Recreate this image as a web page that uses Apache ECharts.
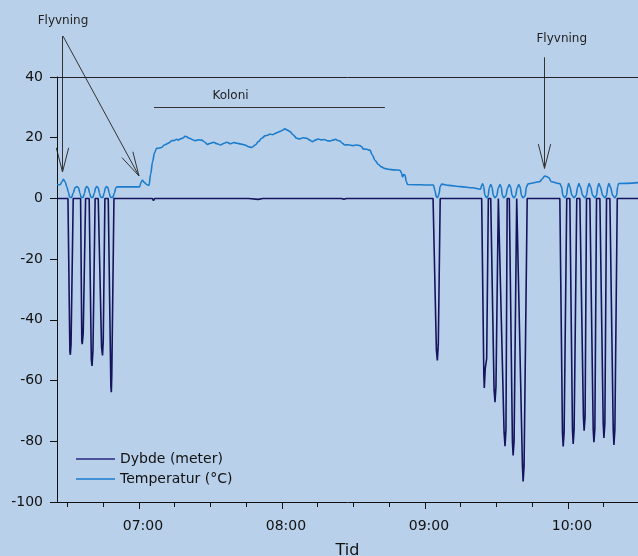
<!DOCTYPE html>
<html>
<head>
<meta charset="utf-8">
<script src="https://cdn.jsdelivr.net/npm/echarts@6/dist/echarts.min.js"></script>
<style>
html,body{margin:0;padding:0;background:#b9d0ea;}
#c{width:638px;height:556px;}
</style>
</head>
<body>
<div id="c"></div>
<script>
// time in minutes since midnight
var xMin = 385.6, xMax = 629.4;
var hourTicks = [420, 480, 540, 600];
var quarterTicks = [390, 405, 420, 435, 450, 465, 480, 495, 510, 525, 540, 555, 570, 585, 600, 615];
var yTicks = { min: -100, max: 40, interval: 20 };

var seriesNames = ['Dybde (meter)', 'Temperatur (°C)'];

// Depth (meter) : [minute, value]
var depthData = [
  [385.6,0],[390.2,0],[391.0,-50.5],[391.2,-51.5],[391.5,-48],[392.4,0],
  [395.5,0],[396.0,-47],[396.2,-48],[396.6,-44.5],[397.0,-44.5],[397.6,0],
  [399.1,0],[400.0,-53],[400.3,-55.2],[400.7,-50],[401.6,0],
  [402.9,0],[404.3,-49],[404.7,-51.7],[405.0,-47],[405.7,0],
  [407.1,0],[408.2,-62],[408.4,-63.8],[408.6,-58],[409.5,0],
  [425.6,0],[426.1,-0.7],[426.6,0],[427.2,-0.4],[427.8,0],[466,0],[470,-0.3],[472,0],
  [505,0],[506,-0.3],[507,0],
  [543.4,0],[544.8,-50],[545.2,-53.4],[545.6,-48],[546.4,0],
  [563.8,0],[564.7,-58],[564.9,-62.4],[565.3,-56],[565.9,-52.8],[566.6,0],
  [567.6,0],[569.0,-63],[569.4,-67.1],[569.8,-62],[570.8,0],
  [571.5,0],[573.2,-77],[573.6,-81.6],[574.0,-76],[574.5,0],
  [575.4,0],[576.7,-80],[577.0,-84.7],[577.4,-80],[578.5,0],
  [579.3,0],[580.9,-88],[581.2,-93.2],[581.6,-88],[582.9,0],
  [589.5,0],[590,-0.5],[590.6,0],
  [596.6,0],[597.7,-77],[598.0,-81.7],[598.4,-77],[599.5,0],
  [600.8,0],[601.9,-76],[602.2,-80.9],[602.6,-76],[603.7,0],
  [605.0,0],[606.5,-72],[606.8,-76.5],[607.2,-72],[607.8,0],
  [609.2,0],[610.6,-76],[610.9,-80.3],[611.3,-76],[612.0,0],
  [613.4,0],[614.8,-74],[615.1,-78.9],[615.5,-74],[616.2,0],
  [617.6,0],[619.0,-76],[619.3,-81.2],[619.7,-76],[620.7,0],
  [629.4,0]
];

// Temperature (°C) : [minute, value]
var tempData = [
  [385.6,4.6],[386.9,4.5],[387.7,5.5],[388.3,6.3],[389.0,5.5],[389.7,3.9],
  [390.4,2.0],[390.9,0.4],[391.7,0.3],[392.4,1.8],[393.2,3.6],[393.9,3.9],
  [394.6,3.6],[395.2,1.8],[395.7,0.4],[396.5,0.3],[397.2,1.8],[397.6,3.5],[398.1,3.9],
  [398.7,3.5],[399.3,1.8],[399.8,0.4],[400.6,0.3],[401.3,1.8],[401.8,3.5],[402.3,3.9],
  [402.9,3.5],[403.4,1.8],[403.9,0.4],[404.8,0.3],[405.4,1.8],[405.9,3.5],[406.4,3.9],
  [407.0,3.5],[407.5,1.8],[408.0,0.4],[409.0,0.3],[409.7,1.8],[410.3,3.5],[410.8,3.8],
  [420.2,3.8],[421.0,5.5],[421.4,6.0],[422.2,5.3],[423.2,4.6],[424.2,4.3],
  [424.9,8],[425.7,12.1],[426.5,15],[427.4,16.5],[428.4,16.6],[429.5,16.8],[430.5,17.5],
  [431.6,17.9],[432.6,18.3],[433.7,19.0],[434.8,19.1],[435.8,19.5],[436.5,19.2],[437.2,19.6],
  [438.5,19.9],[439.3,20.5],[440.0,20.3],[441.2,19.8],[442.3,19.4],[443.5,19.0],[444.8,19.3],
  [446.3,19.2],[447.5,18.6],[448.8,17.8],[450.0,18.2],[451.2,18.5],[452.8,18.0],[454.3,17.6],
  [455.5,18.1],[456.8,18.5],[458.5,18.0],[459.8,18.4],[461.0,18.2],[462.8,17.9],[464.5,17.6],
  [466.0,17.0],[467.3,16.8],[468.8,17.6],[470.1,18.7],[471.5,19.8],[472.9,20.6],[474.0,20.8],
  [475.0,21.2],[476.0,21.0],[477.1,21.4],[478.0,21.7],[478.9,22.0],[480.0,22.4],[481.3,22.9],
  [482.3,22.5],[483.4,22.0],[484.6,21.0],[486.2,19.8],[487.5,19.6],[488.8,20.0],[490.4,19.8],
  [491.5,19.3],[492.7,18.7],[494.0,19.2],[495.2,19.6],[496.5,19.3],[497.8,19.4],[499.0,19.0],
  [500.1,18.9],[501.3,19.2],[502.5,19.5],[503.4,19.1],[504.3,18.9],[505.3,18.2],[506.4,17.6],
  [507.8,17.7],[509.9,17.4],[511.2,17.6],[512.7,17.4],[513.5,17.0],[514.1,16.3],[515.5,16.2],
  [516.9,15.9],[518.0,14.2],[519.0,12.6],[520.5,11.2],[521.8,10.4],[523.0,9.9],[524.6,9.6],
  [527.0,9.4],[529.5,9.3],[530.1,8.5],[530.6,7.1],[531.1,7.9],[531.6,7.7],[532.2,5.5],[532.7,4.6],
  [543.6,4.4],[544.2,2.5],[544.8,0.5],[545.4,0.3],[545.9,1.5],[546.4,4.0],[547.0,4.7],
  [550.0,4.3],[555.0,3.9],[560.0,3.5],[563.3,3.0],
  [563.8,4.3],[564.2,4.8],[564.6,4.0],[565.2,1.0],[565.9,0.2],[566.5,0.8],[567.0,3.5],
  [567.6,4.6],[568.1,3.8],[568.7,1.0],[569.4,0.2],[570.1,0.8],[570.8,3.5],
  [571.5,4.6],[572.0,3.8],[572.5,1.0],[573.1,0.2],[573.9,0.8],[574.7,3.5],
  [575.4,4.6],[575.9,3.8],[576.6,1.0],[577.3,0.2],[578.0,0.8],[578.7,3.5],
  [579.4,4.6],[579.9,3.8],[580.5,1.0],[581.2,0.2],[582.0,0.8],[582.6,3.8],[583.3,4.8],
  [588.1,5.5],[589.3,6.5],[590.2,7.4],[591.0,7.2],[592.0,6.8],[593.0,5.5],[596.6,4.9],
  [597.3,3.8],[597.9,1.0],[598.7,0.2],[599.4,1.0],[599.9,3.8],[600.3,4.9],
  [600.8,3.8],[601.7,1.0],[602.6,0.2],[603.4,1.0],[604.1,3.8],[604.6,4.9],
  [605.2,3.8],[606.2,1.0],[607.1,0.2],[607.8,1.0],[608.4,3.8],[608.9,4.9],
  [609.5,3.8],[610.4,1.0],[611.3,0.2],[612.0,1.0],[612.5,3.8],[613.0,4.9],
  [613.6,3.8],[614.6,1.0],[615.5,0.2],[616.2,1.0],[616.7,3.8],[617.2,4.9],
  [617.8,3.8],[618.8,1.0],[619.7,0.2],[620.4,1.0],[620.9,4.0],[621.3,4.9],
  [629.4,5.2]
];

// annotations in data coordinates [minute, value]
var annoTexts = [
  { text: 'Flyvning', at: [388.1, 58.5], size: 12 },
  { text: 'Flyvning', at: [597.4, 52.4], size: 12 },
  { text: 'Koloni', at: [458.4, 33.9], size: 12 }
];
var annoArrows = [
  { from: [388.1, 53.5], to: [388.1, 8.7] },
  { from: [388.1, 53.5], to: [420.0, 7.4] },
  { from: [590.2, 46.5], to: [590.2, 9.9] }
];
var annoLines = [
  { from: [426.3, 30.0], to: [523.2, 30.0] }
];

function hhmm(v) {
  var h = Math.floor(v / 60), m = Math.round(v - h * 60);
  return (h < 10 ? '0' : '') + h + ':' + (m < 10 ? '0' : '') + m;
}

var FONT = '"DejaVu Sans", Verdana, sans-serif';
var chart = echarts.init(document.getElementById('c'), null, { renderer: 'canvas' });

var option = {
  backgroundColor: '#b9d0ea',
  animation: false,
  grid: { left: 57, right: 0, top: 77, bottom: 54, containLabel: false, outerBoundsMode: 'none' },
  legend: {
    orient: 'vertical', left: 71, top: 446, itemWidth: 39, itemHeight: 1.5, itemGap: 4,
    icon: 'rect',
    textStyle: { fontFamily: FONT, fontSize: 14, color: '#111', lineHeight: 16 },
    data: seriesNames
  },
  xAxis: [
    {
      type: 'value', min: xMin, max: xMax, position: 'bottom',
      axisLine: { show: true, onZero: false, lineStyle: { color: '#111', width: 1 } },
      axisTick: { show: true, inside: false, customValues: quarterTicks, length: 5, lineStyle: { color: '#111' } },
      axisLabel: { show: false },
      splitLine: { show: false }
    },
    {
      type: 'value', min: xMin, max: xMax, position: 'bottom',
      axisLine: { show: false, onZero: false },
      axisTick: { show: true, inside: false, customValues: hourTicks, length: 7, lineStyle: { color: '#111' } },
      axisLabel: { show: true, customValues: hourTicks, formatter: hhmm, margin: 17, padding: [0, 0, 0, 8],
        fontFamily: FONT, fontSize: 14, color: '#111' },
      splitLine: { show: false },
      name: 'Tid', nameLocation: 'middle', nameGap: 41,
      nameTextStyle: { fontFamily: FONT, fontSize: 16, color: '#111' }
    },
    {
      type: 'value', min: xMin, max: xMax, position: 'top',
      axisLine: { show: true, onZero: false, lineStyle: { color: '#222', width: 1 } },
      axisTick: { show: false }, axisLabel: { show: false }, splitLine: { show: false }
    }
  ],
  yAxis: {
    type: 'value', min: yTicks.min, max: yTicks.max, interval: yTicks.interval,
    axisLine: { show: true, onZero: false, lineStyle: { color: '#111' } },
    axisTick: { show: true, length: 7, lineStyle: { color: '#111' } },
    axisLabel: { margin: 14, fontFamily: FONT, fontSize: 14, color: '#111' },
    splitLine: { show: false }
  },
  series: [
    {
      name: seriesNames[0], type: 'line', xAxisIndex: 0, data: depthData,
      symbol: 'none', lineStyle: { color: '#15145c', width: 1.6 }, itemStyle: { color: '#2a2a80' }
    },
    {
      name: seriesNames[1], type: 'line', xAxisIndex: 0, data: tempData,
      symbol: 'none', smooth: 0.35, smoothMonotone: 'x',
      lineStyle: { color: '#1c7ccc', width: 1.6 }, itemStyle: { color: '#1c7ccc' }
    }
  ]
};
chart.setOption(option);

function px(p) { return chart.convertToPixel({ xAxisIndex: 0, yAxisIndex: 0 }, p); }
function crisp(v) { return Math.round(v - 0.5) + 0.5; }
var g = [];
annoTexts.forEach(function (a) {
  var p = px(a.at);
  g.push({ type: 'text', x: p[0], y: p[1], style: { text: a.text, fontFamily: FONT, fontSize: a.size,
    fill: '#222', align: 'center', verticalAlign: 'middle' } });
});
annoLines.forEach(function (l) {
  var a = px(l.from), b = px(l.to);
  g.push({ type: 'line', shape: { x1: a[0], y1: crisp(a[1]), x2: b[0], y2: crisp(b[1]) }, style: { stroke: '#333', lineWidth: 1 } });
});
annoArrows.forEach(function (l) {
  var a = px(l.from), b = px(l.to);
  if (Math.abs(a[0] - b[0]) < 0.01) { a[0] = b[0] = crisp(a[0]); }
  g.push({ type: 'line', shape: { x1: a[0], y1: a[1], x2: b[0], y2: b[1] }, style: { stroke: '#333', lineWidth: 1 } });
  var ang = Math.atan2(a[1] - b[1], a[0] - b[0]);
  var len = 25, spread = 0.25;
  [ang - spread, ang + spread].forEach(function (t) {
    g.push({ type: 'line', shape: { x1: b[0], y1: b[1], x2: b[0] + len * Math.cos(t), y2: b[1] + len * Math.sin(t) },
      style: { stroke: '#333', lineWidth: 1 } });
  });
});
chart.setOption({ graphic: g });
</script>
</body>
</html>
